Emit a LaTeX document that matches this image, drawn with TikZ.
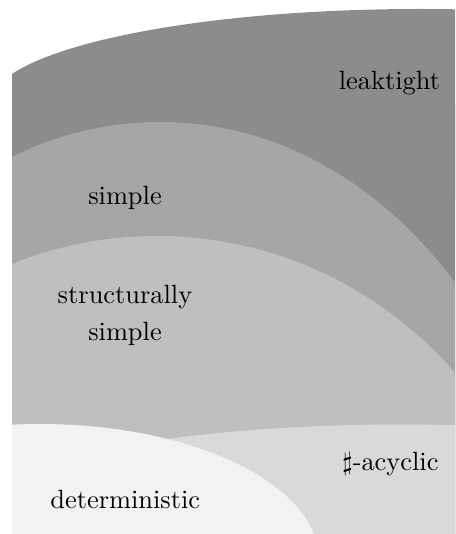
\documentclass[tikz,border=0pt]{standalone}
\usetikzlibrary{positioning}

\begin{document}
\begin{tikzpicture}[x=0.3788pt, y=-0.3788pt,
    lbl/.style={font=\fontsize{10}{14}\selectfont, align=center, inner sep=0pt, anchor=base},
    leak/.style={fill=black!45},
    simp/.style={fill=black!35},
    strs/.style={fill=black!25},
    acyc/.style={fill=black!15},
    dete/.style={fill=black!5}]

\useasboundingbox (0,0) rectangle (455,534);

% Nested classes, clipped to the frame
\begin{scope}
\clip (12,0) rectangle (455,533);
\fill[leak] (420,104) ellipse (430 and 95);
\fill[leak] (0,104) rectangle (460,540);
\fill[simp] (160,617) ellipse (400 and 495);
\fill[strs] (157,647) ellipse (400 and 411);
\fill[acyc] (400,549.5) ellipse (500 and 125);
\fill[dete] (40,560) ellipse (279 and 136);
\end{scope}

% Labels
\node[lbl] (lleak) at (389.5,90) {leaktight};
\node[lbl] (lsimp) at (125,205) {simple};
\node[lbl] (lstrs) at (125,340.5) {structurally\\simple};
\node[lbl] (lacyc) at (390.5,470) {$\sharp$-acyclic};
\node[lbl] (ldete) at (125.3,508) {deterministic};

\end{tikzpicture}
\end{document}
